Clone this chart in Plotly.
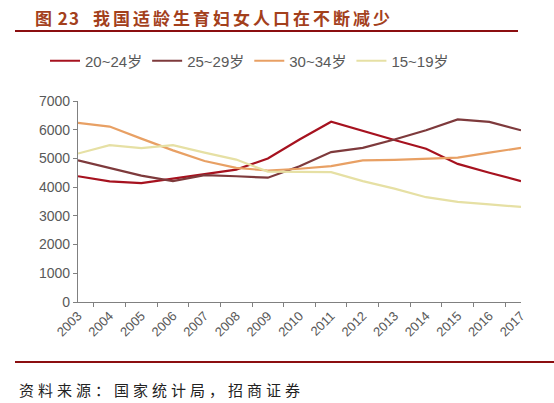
import plotly.graph_objects as go

years = [str(y) for y in range(2003, 2018)]

age_20_24 = [4380, 4200, 4140, 4290, 4460, 4610, 5000, 5660, 6280, 5950, 5640, 5340, 4810, 4500, 4210]
age_25_29 = [4930, 4670, 4400, 4210, 4420, 4380, 4330, 4730, 5220, 5370, 5660, 5980, 6360, 6270, 5980]
age_30_34 = [6240, 6110, 5690, 5280, 4910, 4670, 4580, 4640, 4730, 4930, 4950, 4980, 5030, 5200, 5370]
age_15_19 = [5170, 5460, 5360, 5460, 5200, 4960, 4540, 4520, 4520, 4210, 3950, 3650, 3490, 3400, 3310]

series = [
    ("20~24岁", age_20_24, "#A6121F"),
    ("25~29岁", age_25_29, "#7E3A3C"),
    ("30~34岁", age_30_34, "#E8A064"),
    ("15~19岁", age_15_19, "#E6E0A4"),
]

fig = go.Figure()
for name, vals, color in series:
    fig.add_trace(go.Scatter(x=years, y=vals, name=name, mode="lines",
                             line=dict(color=color, width=2.2)))

axis_font = dict(family="Arial, Liberation Sans, sans-serif", size=14, color="#595959")

fig.update_layout(
    width=554, height=403, autosize=False,
    margin=dict(l=78, r=33, t=101, b=101, autoexpand=False),
    plot_bgcolor="white", paper_bgcolor="white",
    showlegend=True,
    legend=dict(orientation="h", xref="container", yref="container",
                x=45 / 554, y=1 - 61 / 403, xanchor="left", yanchor="middle",
                font=dict(family="Liberation Sans, Noto Sans CJK SC", size=15, color="#595959"),
                itemwidth=30, tracegroupgap=0),
    xaxis=dict(type="category", tickson="boundaries", ticks="outside", ticklen=4,
               tickcolor="#808080", showline=True, linecolor="#808080", linewidth=1.3,
               showgrid=False, tickangle=-45, automargin=False,
               tickfont=dict(family="Arial, Liberation Sans, sans-serif", size=13, color="#595959")),
    yaxis=dict(range=[0, 7000], dtick=1000, ticks="outside", ticklen=4,
               tickcolor="#808080", showline=True, linecolor="#808080", linewidth=1.3,
               showgrid=False, zeroline=False, automargin=False, tickfont=axis_font),
)

# title (two parts), source text and the two rules
title_font = dict(family="Noto Sans CJK SC", size=17, color="#A3401C")
fig.add_annotation(text="<span style='letter-spacing:1px'><b>图&nbsp;23</b></span>", xref="paper", yref="paper",
                   x=(33 - 78) / 443, y=1 + (101 - 17) / 201, xanchor="left", yanchor="middle",
                   showarrow=False, font=title_font)
fig.add_annotation(text="<span style='letter-spacing:3px'><b>我国适龄生育妇女人口在不断减少</b></span>",
                   xref="paper", yref="paper",
                   x=(91 - 78) / 443, y=1 + (101 - 17) / 201, xanchor="left", yanchor="middle",
                   showarrow=False, font=title_font)
fig.add_annotation(text="<span style='letter-spacing:4px'>资料来源：国家统计局，招商证券</span>",
                   xref="paper", yref="paper",
                   x=(17 - 78) / 443, y=-(389 - 302) / 201, xanchor="left", yanchor="middle",
                   showarrow=False,
                   font=dict(family="Noto Sans CJK SC", size=15, color="#222222"))
fig.add_shape(type="line", xref="paper", yref="paper",
              x0=(15 - 78) / 443, x1=(518 - 78) / 443,
              y0=1 + (101 - 31) / 201, y1=1 + (101 - 31) / 201,
              line=dict(color="#8B0E10", width=2))
fig.add_shape(type="line", xref="paper", yref="paper",
              x0=(15 - 78) / 443, x1=(554 - 78) / 443,
              y0=-(362 - 302) / 201, y1=-(362 - 302) / 201,
              line=dict(color="#8B0E10", width=2))

fig.write_html("out.html", config={"displayModeBar": False},
               post_script="document.body.style.margin='0';")
